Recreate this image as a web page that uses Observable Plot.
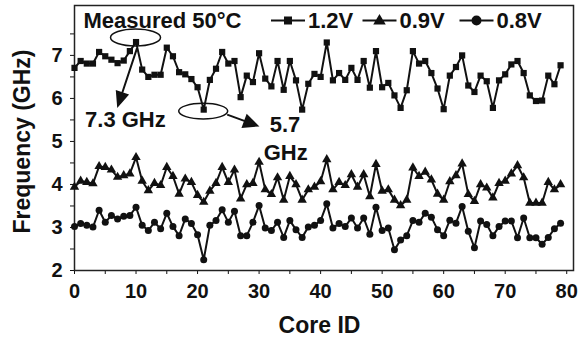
<!DOCTYPE html>
<html><head><meta charset="utf-8">
<script src="https://cdn.jsdelivr.net/npm/d3@7"></script>
<script src="https://cdn.jsdelivr.net/npm/@observablehq/plot@0.6"></script>
<style>
html,body{margin:0;padding:0;background:#fff;}
</style></head><body><div id="chart"></div>
<script>
// ---- data ----
const seriesNames = ["1.2V", "0.9V", "0.8V"];
const seriesSymbols = ["square", "triangle", "circle"];
const xTickLabels = [0, 10, 20, 30, 40, 50, 60, 70, 80];
const xMinorTicks = [5, 15, 25, 35, 45, 55, 65, 75];
const yTickLabels = [2, 3, 4, 5, 6, 7];
const yMinorTicks = [2.5, 3.5, 4.5, 5.5, 6.5, 7.5];
const titleText = "Measured 50°C";
const highlightCores = [10, 21]; // annotated points on the 1.2V curve

const freq12 = [6.71, 6.87, 6.81, 6.81, 7.08, 6.98, 6.90, 6.82, 6.88, 7.10,
                7.31, 6.67, 6.50, 6.55, 6.55, 7.18, 6.98, 6.61, 6.56, 6.45,
                6.26, 5.74, 6.43, 6.69, 7.08, 6.81, 6.87, 6.03, 6.53, 6.38,
                7.05, 6.46, 6.28, 6.87, 6.20, 6.87, 6.42, 5.74, 6.34, 6.57,
                6.50, 7.30, 6.42, 6.59, 6.43, 6.71, 6.43, 6.87, 6.25, 7.10,
                6.26, 6.36, 6.07, 5.78, 6.19, 7.10, 6.81, 6.87, 6.59, 6.23,
                5.75, 6.53, 6.73, 7.00, 6.30, 6.15, 6.53, 6.40, 5.78, 6.42,
                6.56, 6.79, 6.87, 6.59, 6.07, 5.94, 5.95, 6.53, 6.33, 6.77];
const freq09 = [3.94, 4.08, 4.05, 4.02, 4.42, 4.40, 4.34, 4.17, 4.21, 4.25,
                4.63, 4.08, 3.86, 4.03, 3.98, 4.40, 4.19, 3.78, 4.13, 4.05,
                3.75, 3.59, 3.85, 4.03, 4.40, 4.05, 4.34, 3.67, 4.00, 4.03,
                4.52, 3.88, 3.77, 4.16, 3.64, 4.19, 4.00, 3.64, 3.88, 3.94,
                4.07, 4.58, 3.88, 4.05, 3.98, 4.23, 3.94, 4.23, 3.72, 4.47,
                3.85, 3.88, 3.64, 3.51, 3.64, 4.39, 4.19, 4.29, 4.11, 3.78,
                3.64, 4.07, 4.21, 4.48, 3.77, 3.61, 4.00, 3.92, 3.69, 4.03,
                4.08, 4.25, 4.44, 4.16, 3.57, 3.57, 3.57, 4.05, 3.88, 4.00];
const freq08 = [3.02, 3.09, 3.05, 3.01, 3.40, 3.12, 3.28, 3.20, 3.26, 3.28,
                3.47, 3.05, 2.93, 3.12, 2.97, 3.33, 3.02, 2.81, 3.20, 3.09,
                2.83, 2.25, 3.05, 3.16, 3.41, 3.12, 3.38, 2.81, 2.81, 3.12,
                3.51, 2.99, 2.93, 3.12, 2.77, 3.16, 2.95, 2.77, 3.01, 3.05,
                3.16, 3.55, 2.99, 3.09, 3.02, 3.22, 2.99, 3.22, 2.84, 3.47,
                2.93, 2.99, 2.48, 2.71, 2.81, 3.16, 3.12, 3.33, 3.24, 2.95,
                2.81, 3.17, 3.10, 3.49, 2.91, 2.53, 3.15, 3.07, 2.81, 3.02,
                3.15, 3.15, 2.76, 3.22, 2.76, 2.76, 2.61, 2.77, 2.97, 3.10];

// ---- build ----
const seriesValues = [freq12, freq09, freq08];
const data = seriesNames.flatMap((s, i) => seriesValues[i].map((v, core) => ({core, freq: v, series: s})));
const FONT = '"Liberation Sans", Arial, Helvetica, sans-serif';
const INK = "#111";

function ellipseSymbol(cx, cy, rx, ry) {
  const k = 0.5523;
  return {draw(c) {
    c.moveTo(cx + rx, cy);
    c.bezierCurveTo(cx + rx, cy + k * ry, cx + k * rx, cy + ry, cx, cy + ry);
    c.bezierCurveTo(cx - k * rx, cy + ry, cx - rx, cy + k * ry, cx - rx, cy);
    c.bezierCurveTo(cx - rx, cy - k * ry, cx - k * rx, cy - ry, cx, cy - ry);
    c.bezierCurveTo(cx + k * rx, cy - ry, cx + rx, cy - k * ry, cx + rx, cy);
    c.closePath();
  }};
}
function arrowSymbol(x0, y0, x1, y1, len = 13, half = 6) {
  return {draw(c) {
    const a = Math.atan2(y1 - y0, x1 - x0), ca = Math.cos(a), sa = Math.sin(a);
    const bx = x1 - len * ca, by = y1 - len * sa;
    c.moveTo(x0, y0); c.lineTo(bx, by);
    c.moveTo(x1, y1);
    c.lineTo(bx + half * sa, by - half * ca);
    c.lineTo(bx - half * sa, by + half * ca);
    c.closePath();
  }};
}
// legend key: short line with the series marker in its middle
function legendKey(kind, h = 17) {
  return {draw(c) {
    c.moveTo(-h, 0); c.lineTo(h, 0);
    if (kind === "square") { c.rect(-3, -3, 6, 6); }
    else if (kind === "triangle") { c.moveTo(0, -4.5); c.lineTo(4.5, 3); c.lineTo(-4.5, 3); c.closePath(); }
    else { c.moveTo(4, 0); c.arc(0, 0, 4, 0, 2 * Math.PI); c.closePath(); }
  }};
}

const hl = data.filter(d => d.series === seriesNames[0] && highlightCores.includes(d.core));
const peak = hl[0], dip = hl[1];
const fmt = d3.format(".1f");

const legendDx = [213.5, 305, 402];
const legendMarks = seriesNames.flatMap((s, i) => [
  Plot.dot([s], {frameAnchor: "top-left", dx: legendDx[i], dy: 15, symbol: legendKey(seriesSymbols[i]), fill: INK, stroke: INK, strokeWidth: 2}),
  Plot.text([s], {frameAnchor: "top-left", dx: legendDx[i] + 20, dy: 15.5, text: d => d, textAnchor: "start", lineAnchor: "middle", fontSize: 22, fill: INK})
]);

const chart = Plot.plot({
  width: 580, height: 338,
  marginLeft: 74, marginRight: 7, marginTop: 5, marginBottom: 68,
  x: {domain: [0, 81.1]},
  y: {domain: [2, 8.16]},
  symbol: {domain: seriesNames, range: seriesSymbols},
  style: {fontFamily: FONT, fontSize: "20px", fontWeight: "bold", color: INK, background: "#fff", overflow: "visible"},
  marks: [
    Plot.axisY({ticks: yTickLabels.concat(yMinorTicks), tickSize: 4, tickPadding: 8,
      tickFormat: d => yTickLabels.includes(d) ? String(d) : "", label: null, fontSize: 20}),
    Plot.axisX({ticks: xTickLabels.concat(xMinorTicks), tickSize: 4, tickPadding: 9,
      tickFormat: d => xTickLabels.includes(d) ? String(d) : "", label: null, fontSize: 20}),
    Plot.frame({stroke: "#222", strokeWidth: 1.5}),
    Plot.line(data, {x: "core", y: "freq", z: "series", stroke: INK, strokeWidth: 2}),
    Plot.dot(data, {x: "core", y: "freq", symbol: "series", fill: INK, r: 3.5}),
    // annotations
    Plot.dot([peak], {x: "core", y: "freq", symbol: ellipseSymbol(-0.5, -4.5, 25, 8.5), fill: "none", stroke: INK, strokeWidth: 1.5}),
    Plot.dot([peak], {x: "core", y: "freq", symbol: arrowSymbol(1, 6, -18, 63.5, 13, 5.5), fill: INK, stroke: INK, strokeWidth: 2}),
    Plot.text([peak], {x: "core", y: "freq", text: d => fmt(d.freq) + " GHz", dx: -51, dy: 78, textAnchor: "start", lineAnchor: "middle", fontSize: 22, fill: INK}),
    Plot.dot([dip], {x: "core", y: "freq", symbol: ellipseSymbol(-0.5, 1.5, 24.5, 7.8), fill: "none", stroke: INK, strokeWidth: 1.5}),
    Plot.dot([dip], {x: "core", y: "freq", symbol: arrowSymbol(23.5, 5, 53.5, 16), fill: INK, stroke: INK, strokeWidth: 2}),
    Plot.text([dip], {x: "core", y: "freq", text: d => fmt(d.freq), dx: 66, dy: 15, textAnchor: "start", lineAnchor: "middle", fontSize: 22, fill: INK}),
    Plot.text([dip], {x: "core", y: "freq", text: () => "GHz", dx: 60, dy: 43.4, textAnchor: "start", lineAnchor: "middle", fontSize: 22, fill: INK}),
    // title and legend
    Plot.text([titleText], {frameAnchor: "top-left", dx: 9, dy: 15.5, text: d => d, textAnchor: "start", lineAnchor: "middle", fontSize: 22, fill: INK}),
    ...legendMarks,
    // axis titles
    Plot.text(["Frequency (GHz)"], {frameAnchor: "left", dx: -52, dy: 3.5, rotate: -90, text: d => d, textAnchor: "middle", lineAnchor: "middle", fontSize: 23, fill: INK}),
    Plot.text(["Core ID"], {frameAnchor: "bottom", dx: -4.5, dy: 55, text: d => d, textAnchor: "middle", lineAnchor: "middle", fontSize: 23, fill: INK})
  ]
});
document.getElementById("chart").append(chart);
</script>
</body></html>
